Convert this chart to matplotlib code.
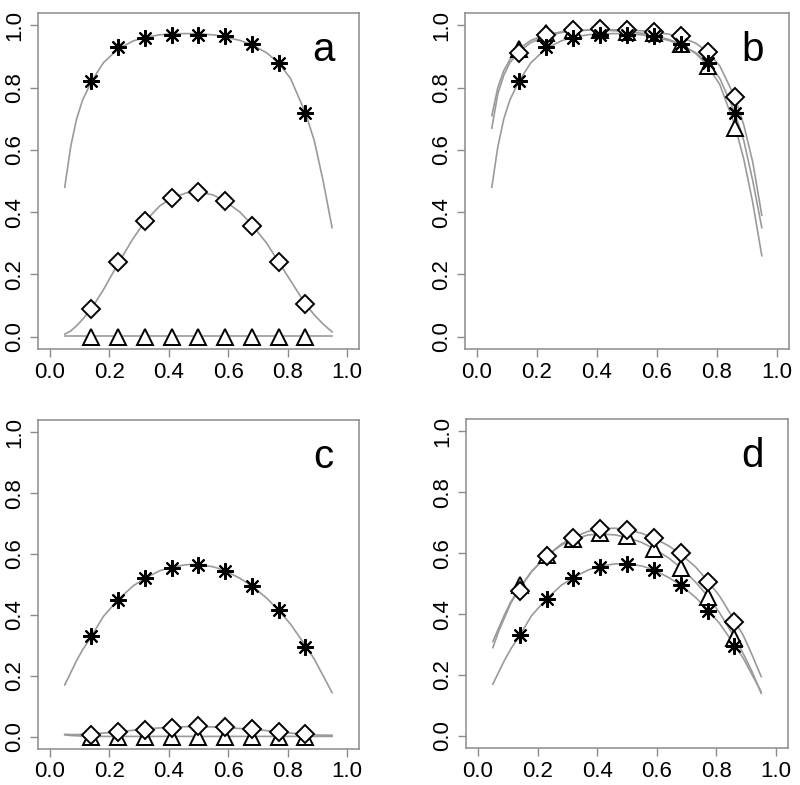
import numpy as np
import matplotlib.pyplot as plt

plt.rcParams['font.family'] = ['Liberation Sans', 'DejaVu Sans']

# x positions of the observed points
x_pts = [0.14, 0.23, 0.32, 0.41, 0.50, 0.59, 0.68, 0.77, 0.86]

# x positions where the fitted curves were read
x_curve = [0.05, 0.07, 0.09, 0.11, 0.14, 0.18, 0.23, 0.28, 0.32, 0.37, 0.41, 0.46,
           0.50, 0.55, 0.59, 0.64, 0.68, 0.73, 0.77, 0.81, 0.86, 0.89, 0.92, 0.95]

# panel a
a_star = [0.82, 0.93, 0.96, 0.97, 0.97, 0.965, 0.94, 0.88, 0.72]
a_diam = [0.09, 0.24, 0.37, 0.445, 0.465, 0.435, 0.355, 0.24, 0.105]
a_tri = [0.0, 0.0, 0.0, 0.0, 0.0, 0.0, 0.0, 0.0, 0.0]
a_star_fit = [0.48, 0.61, 0.70, 0.76, 0.82, 0.88, 0.925, 0.95, 0.962, 0.97, 0.973, 0.974,
              0.973, 0.97, 0.963, 0.952, 0.938, 0.912, 0.88, 0.83, 0.72, 0.63, 0.50, 0.35]
a_diam_fit = [0.008, 0.018, 0.035, 0.055, 0.09, 0.15, 0.235, 0.315, 0.37, 0.42, 0.445, 0.462,
              0.465, 0.455, 0.435, 0.40, 0.36, 0.30, 0.24, 0.18, 0.105, 0.07, 0.04, 0.015]
a_tri_fit = [0.001] * 24

# panel b
b_star = [0.82, 0.93, 0.96, 0.97, 0.97, 0.965, 0.94, 0.88, 0.72]
b_diam = [0.91, 0.97, 0.985, 0.99, 0.985, 0.98, 0.965, 0.915, 0.77]
b_tri = [0.925, 0.975, 0.985, 0.985, 0.98, 0.975, 0.94, 0.87, 0.67]
b_star_fit = a_star_fit
b_diam_fit = [0.67, 0.78, 0.84, 0.88, 0.915, 0.945, 0.965, 0.977, 0.982, 0.985, 0.986, 0.986,
              0.985, 0.983, 0.979, 0.972, 0.962, 0.943, 0.915, 0.87, 0.77, 0.68, 0.56, 0.39]
b_tri_fit = [0.71, 0.80, 0.855, 0.89, 0.925, 0.952, 0.97, 0.979, 0.983, 0.985, 0.985, 0.983,
             0.98, 0.975, 0.968, 0.955, 0.94, 0.91, 0.87, 0.81, 0.68, 0.57, 0.43, 0.26]

# panel c
c_star = [0.33, 0.45, 0.52, 0.555, 0.565, 0.545, 0.495, 0.415, 0.295]
c_diam = [0.005, 0.015, 0.022, 0.03, 0.034, 0.032, 0.025, 0.017, 0.008]
c_tri = [0.0, 0.0, 0.0, 0.0, 0.0, 0.0, 0.0, 0.0, 0.0]
c_star_fit = [0.17, 0.21, 0.25, 0.285, 0.33, 0.395, 0.45, 0.495, 0.52, 0.545, 0.557, 0.565,
              0.565, 0.558, 0.545, 0.52, 0.495, 0.455, 0.415, 0.37, 0.30, 0.255, 0.20, 0.145]
c_diam_fit = [0.008, 0.007, 0.007, 0.008, 0.009, 0.012, 0.016, 0.021, 0.025, 0.029, 0.031, 0.033,
              0.033, 0.032, 0.030, 0.027, 0.024, 0.020, 0.016, 0.012, 0.008, 0.006, 0.005, 0.005]
c_tri_fit = [0.006, 0.004, 0.003, 0.002, 0.001, 0.001, 0.001, 0.001, 0.001, 0.001, 0.001, 0.001,
             0.001, 0.001, 0.001, 0.001, 0.001, 0.001, 0.001, 0.001, 0.001, 0.001, 0.001, 0.001]

# panel d
d_star = [0.33, 0.45, 0.52, 0.555, 0.565, 0.545, 0.495, 0.41, 0.295]
d_diam = [0.475, 0.59, 0.65, 0.68, 0.675, 0.65, 0.60, 0.505, 0.375]
d_tri = [0.495, 0.595, 0.645, 0.665, 0.655, 0.615, 0.55, 0.455, 0.32]
d_star_fit = c_star_fit
d_diam_fit = [0.31, 0.355, 0.40, 0.44, 0.485, 0.54, 0.59, 0.63, 0.652, 0.672, 0.68, 0.682,
              0.678, 0.665, 0.65, 0.624, 0.597, 0.555, 0.51, 0.46, 0.38, 0.33, 0.265, 0.195]
d_tri_fit = [0.29, 0.345, 0.39, 0.435, 0.485, 0.54, 0.59, 0.627, 0.645, 0.66, 0.663, 0.66,
             0.652, 0.635, 0.615, 0.584, 0.553, 0.505, 0.46, 0.405, 0.325, 0.27, 0.21, 0.14]

panels = [
    ("a", [0.0475, 0.5554, 0.401, 0.428], a_star, a_diam, a_tri, a_star_fit, a_diam_fit, a_tri_fit),
    ("b", [0.581, 0.5554, 0.405, 0.428], b_star, b_diam, b_tri, b_star_fit, b_diam_fit, b_tri_fit),
    ("c", [0.0475, 0.046, 0.401, 0.419], c_star, c_diam, c_tri, c_star_fit, c_diam_fit, c_tri_fit),
    ("d", [0.5825, 0.047, 0.4025, 0.419], d_star, d_diam, d_tri, d_star_fit, d_diam_fit, d_tri_fit),
]

GRAY = "#9a9a9a"
FRAME = "#8c8c8c"
asterisk = (8, 2, 0)  # R pch=8 style

fig = plt.figure(figsize=(8, 7.85), dpi=100)

for letter, rect, star, diam, tri, star_fit, diam_fit, tri_fit in panels:
    ax = fig.add_axes(rect)
    for fit in (tri_fit, diam_fit, star_fit):
        ax.plot(x_curve, fit, color=GRAY, lw=1.2, zorder=1)
    ax.plot(x_pts, tri, ls="none", marker="^", ms=11, mfc="white", mec="black", mew=1.4, zorder=2)
    ax.plot(x_pts, diam, ls="none", marker="D", ms=9, mfc="white", mec="black", mew=1.4, zorder=3)
    ax.plot(x_pts, star, ls="none", marker=asterisk, ms=12, mec="black", mew=1.5, zorder=4)

    ax.set_xlim(-0.04, 1.04)
    ax.set_ylim(-0.04, 1.04)
    ticks = [0.0, 0.2, 0.4, 0.6, 0.8, 1.0]
    ax.set_xticks(ticks)
    ax.set_yticks(ticks)
    ax.set_xticklabels([f"{t:.1f}" for t in ticks], fontsize=16)
    ax.set_yticklabels([f"{t:.1f}" for t in ticks], fontsize=16, rotation=90, va="center")
    ax.tick_params(length=6, width=1, color=FRAME, pad=3)
    for sp in ax.spines.values():
        sp.set_color(FRAME)
        sp.set_linewidth(1.1)
    ax.text(0.92, 0.92, letter, fontsize=29, ha="center", va="center")

fig.savefig("out.png", dpi=100)
